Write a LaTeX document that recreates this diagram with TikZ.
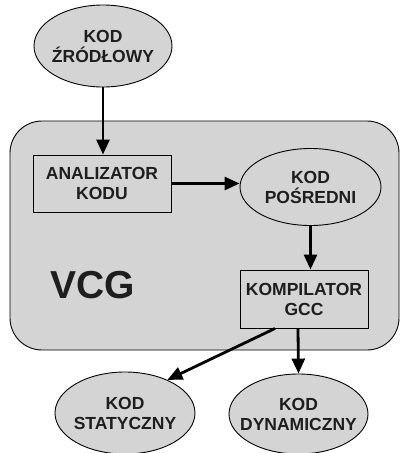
\documentclass[tikz,border=0pt]{standalone}
\usepackage{fontspec}
\setmainfont{Liberation Sans}
\usetikzlibrary{shapes.geometric,arrows.meta}
\definecolor{shapegray}{HTML}{D4D4D4}
\definecolor{txt}{HTML}{1E1E1E}
\tikzset{
  lbl/.style={font=\fontsize{17.5}{20}\selectfont\bfseries, text=txt, align=center, inner sep=0pt},
  oval/.style={ellipse, draw=black, line width=0.9pt, fill=shapegray, inner sep=0pt},
  boxnode/.style={rectangle, draw=black, line width=0.9pt, fill=shapegray, lbl},
  flow/.style={line width=2.8pt, -{Triangle[length=15pt,width=13pt]}},
}
\begin{document}
\begin{tikzpicture}[x=1pt,y=-1pt]
\useasboundingbox (0,0) rectangle (402,453);
% container
\node[draw=black, line width=0.9pt, fill=shapegray, rounded corners=32pt, minimum width=389pt, minimum height=229pt, inner sep=0pt] (vcgbox) at (204.5,235.5) {};
\node[font=\fontsize{39}{44}\selectfont\bfseries, text=txt, inner sep=0pt] (vcg) at (93,285) {VCG};
% nodes
\node[oval, minimum width=138pt, minimum height=82pt] (src) at (103,46) {};
\node[lbl] (srct) at (src) {KOD\\ŹRÓDŁOWY};
\node[boxnode, minimum width=138pt, minimum height=57pt] (anal) at (102,183.5) {ANALIZATOR\\KODU};
\node[oval, minimum width=141pt, minimum height=77pt] (pos) at (310.5,187) {};
\node[lbl] (post) at (pos) {KOD\\POŚREDNI};
\node[boxnode, minimum width=128pt, minimum height=58pt] (gcc) at (304,299) {KOMPILATOR\\GCC};
\node[oval, minimum width=140pt, minimum height=82pt] (stat) at (125,413) {};
\node[lbl] (statt) at (stat) {KOD\\STATYCZNY};
\node[oval, minimum width=139pt, minimum height=80pt] (dyn) at (298.5,414) {};
\node[lbl] (dynt) at (dyn) {KOD\\DYNAMICZNY};
% connectors
\draw[flow] (src.south) -- (anal.north -| src.south);
\draw[flow] (anal.east) -- (pos.west |- anal.east);
\draw[flow] (pos.south) -- (pos.south |- gcc.north);
\draw[flow] ([xshift=-29pt]gcc.south) -- (stat.38);
\draw[flow] ([xshift=-6pt]gcc.south) -- (dyn.north);
\end{tikzpicture}
\end{document}
